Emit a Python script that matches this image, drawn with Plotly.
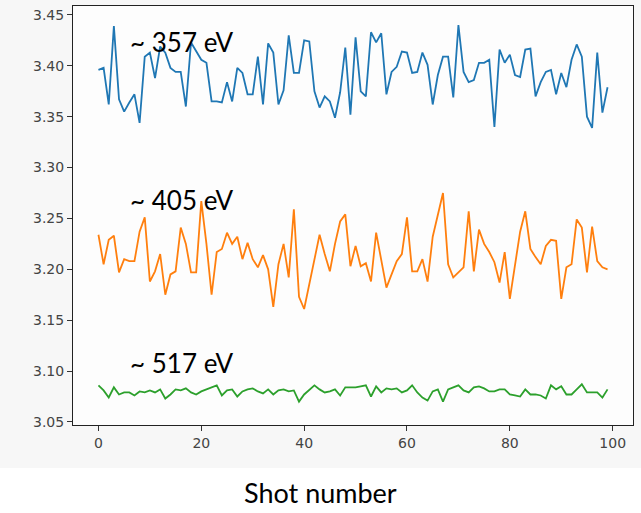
import plotly.graph_objects as go

# Shot index
shots = list(range(100))

# Peak positions per shot for the three photon energies
peak_357 = [3.396, 3.398, 3.362, 3.439, 3.367, 3.355, 3.364, 3.372, 3.344, 3.409,
            3.413, 3.388, 3.419, 3.413, 3.398, 3.394, 3.394, 3.360, 3.423, 3.414,
            3.406, 3.403, 3.365, 3.365, 3.364, 3.384, 3.365, 3.398, 3.393, 3.372,
            3.372, 3.409, 3.362, 3.422, 3.413, 3.362, 3.376, 3.430, 3.393, 3.393,
            3.425, 3.424, 3.375, 3.359, 3.370, 3.365, 3.349, 3.374, 3.418, 3.352,
            3.428, 3.375, 3.370, 3.433, 3.423, 3.432, 3.372, 3.394, 3.399, 3.414,
            3.413, 3.393, 3.394, 3.413, 3.401, 3.362, 3.391, 3.409, 3.409, 3.369,
            3.440, 3.394, 3.384, 3.386, 3.403, 3.403, 3.406, 3.340, 3.416, 3.403,
            3.411, 3.391, 3.389, 3.416, 3.417, 3.370, 3.384, 3.394, 3.396, 3.372,
            3.393, 3.379, 3.406, 3.421, 3.409, 3.350, 3.339, 3.413, 3.354, 3.379]

peak_405 = [3.234, 3.205, 3.229, 3.233, 3.197, 3.210, 3.208, 3.208, 3.237, 3.251,
            3.188, 3.198, 3.215, 3.175, 3.195, 3.198, 3.241, 3.225, 3.197, 3.197,
            3.267, 3.225, 3.175, 3.217, 3.220, 3.236, 3.225, 3.232, 3.210, 3.226,
            3.210, 3.202, 3.214, 3.200, 3.163, 3.205, 3.225, 3.192, 3.259, 3.173,
            3.161, 3.185, 3.208, 3.234, 3.215, 3.198, 3.225, 3.247, 3.254, 3.203,
            3.223, 3.203, 3.206, 3.188, 3.236, 3.208, 3.182, 3.195, 3.208, 3.215,
            3.251, 3.198, 3.198, 3.210, 3.188, 3.232, 3.254, 3.275, 3.205, 3.192,
            3.197, 3.202, 3.257, 3.198, 3.239, 3.225, 3.217, 3.207, 3.187, 3.217,
            3.171, 3.203, 3.237, 3.257, 3.220, 3.212, 3.205, 3.223, 3.229, 3.228,
            3.171, 3.202, 3.205, 3.249, 3.241, 3.197, 3.242, 3.208, 3.202, 3.200]

peak_517 = [3.086, 3.081, 3.074, 3.084, 3.077, 3.079, 3.079, 3.076, 3.080, 3.079,
            3.081, 3.079, 3.082, 3.073, 3.077, 3.082, 3.081, 3.083, 3.079, 3.077,
            3.080, 3.082, 3.084, 3.086, 3.076, 3.081, 3.082, 3.075, 3.080, 3.082,
            3.083, 3.080, 3.078, 3.082, 3.077, 3.081, 3.082, 3.080, 3.081, 3.070,
            3.077, 3.082, 3.086, 3.082, 3.079, 3.080, 3.082, 3.076, 3.084, 3.084,
            3.084, 3.085, 3.086, 3.075, 3.085, 3.079, 3.083, 3.082, 3.083, 3.079,
            3.081, 3.086, 3.079, 3.074, 3.071, 3.080, 3.082, 3.070, 3.082, 3.084,
            3.086, 3.081, 3.079, 3.084, 3.085, 3.083, 3.080, 3.080, 3.082, 3.082,
            3.077, 3.076, 3.075, 3.082, 3.077, 3.077, 3.076, 3.073, 3.086, 3.082,
            3.085, 3.077, 3.077, 3.082, 3.087, 3.079, 3.079, 3.079, 3.074, 3.082]

series = [(peak_357, "#1f77b4", "~ 357 eV", 3.4235),
          (peak_405, "#ff7f0e", "~ 405 eV", 3.268),
          (peak_517, "#2ca02c", "~ 517 eV", 3.108)]

x_ticks = [0, 20, 40, 60, 80, 100]
y_ticks = [3.05, 3.10, 3.15, 3.20, 3.25, 3.30, 3.35, 3.40, 3.45]

fig = go.Figure()
annotations = []
for values, color, label, label_y in series:
    fig.add_trace(go.Scatter(x=shots, y=values, mode="lines",
                             line=dict(color=color, width=1.8),
                             showlegend=False, hoverinfo="skip"))
    annotations.append(dict(x=5.8, y=label_y, xref="x", yref="y", text=label,
                            showarrow=False, xanchor="left", yanchor="middle",
                            font=dict(family="Lato", size=26, color="black")))

annotations.append(dict(x=0.442, y=-0.16, xref="paper", yref="paper",
                        text="Shot number", showarrow=False,
                        xanchor="center", yanchor="middle",
                        font=dict(family="Lato", size=27, color="black")))

axis_common = dict(showline=True, linecolor="#222", linewidth=1, mirror=True,
                   ticks="outside", ticklen=5, tickwidth=1, tickcolor="#333",
                   showgrid=False, zeroline=False,
                   tickfont=dict(family="DejaVu Sans", size=14, color="#444"))

fig.update_layout(
    width=641, height=513,
    margin=dict(l=73, r=8, t=6, b=88),
    paper_bgcolor="white",
    plot_bgcolor="#fdfdfd",
    xaxis=dict(range=[-4.95, 103.95], tickvals=x_ticks, **axis_common),
    yaxis=dict(range=[3.047, 3.4588], tickvals=y_ticks,
               ticktext=[f"{v:.2f}" for v in y_ticks], **axis_common),
    annotations=annotations,
    shapes=[
        # figure canvas behind the axes
        dict(type="rect", xref="paper", yref="paper",
             x0=-73 / 560, x1=568 / 560, y0=-43 / 419, y1=425 / 419,
             fillcolor="#f7f7f7", line=dict(width=0), layer="below"),
        # axes face
        dict(type="rect", xref="paper", yref="paper",
             x0=0, x1=1, y0=0, y1=1,
             fillcolor="#fdfdfd", line=dict(width=0), layer="below"),
    ],
)

fig.write_html("out.html")
